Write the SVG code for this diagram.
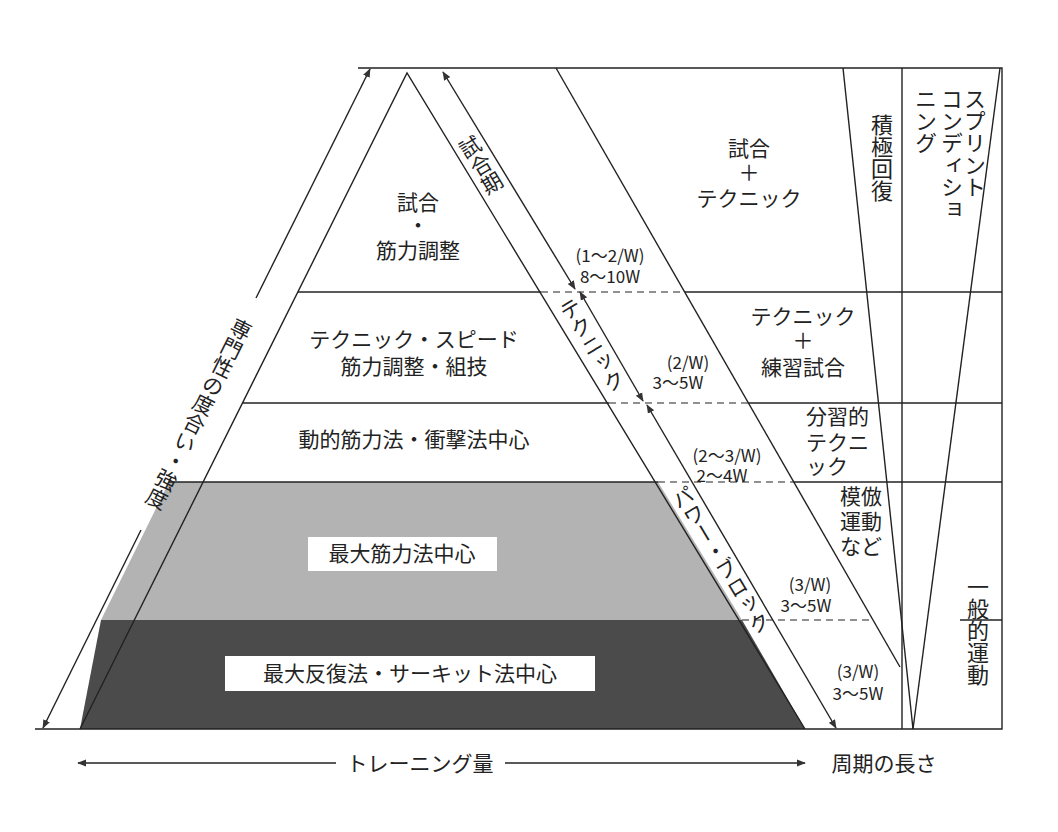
<svg xmlns="http://www.w3.org/2000/svg" width="1058" height="832" viewBox="0 0 1058 832">
<style>
text{font-family:"Noto Sans CJK JP","Noto Sans",sans-serif;fill:#222}
.t{font-size:21px;text-anchor:middle}
.s{font-size:17px;text-anchor:middle}
.v{font-size:22px;writing-mode:vertical-rl}
.r{font-size:21px;writing-mode:vertical-rl;text-anchor:middle}
.l{stroke:#222;stroke-width:1.4;fill:none}
.d{stroke:#222;stroke-width:1.2;stroke-dasharray:7 5;fill:none}
</style>
<defs>
<marker id="a" viewBox="0 0 10 10" refX="9" refY="5" markerWidth="9" markerHeight="9" orient="auto-start-reverse" markerUnits="userSpaceOnUse"><path d="M0,1 L10,5 L0,9 z" fill="#333"/></marker>
</defs>
<rect width="1058" height="832" fill="#fff"/>
<g id="bands">
<polygon points="407,73 80,729 805,729" fill="#fff"/>
<polygon points="169,482 658,482 742,620 101,620" fill="#b3b3b3"/>
<polygon points="101,620 742,620 805,729 80,729" fill="#4b4b4b"/>
<rect x="308" y="537" width="189" height="34" fill="#fff"/>
<rect x="225" y="656" width="370" height="35" fill="#fff"/>
</g>
<g id="connectors">
<polyline class="l" points="358,68 1002,68 1002,729 35,729"/>
<polyline class="l" points="80,729 407,73 805,729"/>
<line class="l" x1="298" y1="292" x2="541" y2="292"/>
<line class="l" x1="243" y1="403" x2="609" y2="403"/>
<line class="l" x1="169" y1="482" x2="658" y2="482"/>
<line class="d" x1="541" y1="292" x2="685" y2="292"/>
<line class="d" x1="609" y1="403" x2="748" y2="403"/>
<line class="d" x1="658" y1="482" x2="794" y2="482"/>
<line class="d" x1="742" y1="620" x2="870" y2="620"/>
<line class="l" x1="685" y1="292" x2="1002" y2="292"/>
<line class="l" x1="748" y1="403" x2="1002" y2="403"/>
<line class="l" x1="794" y1="482" x2="1002" y2="482"/>
<line class="l" x1="960" y1="620" x2="1002" y2="620"/>
<line class="l" x1="556" y1="68" x2="900" y2="667"/>
<line class="l" x1="843" y1="68" x2="913" y2="729"/>
<line class="l" x1="1000" y1="68" x2="913" y2="729"/>
<line class="l" x1="902" y1="68" x2="902" y2="729"/>
<line class="l" x1="443" y1="72" x2="575" y2="289" marker-start="url(#a)" marker-end="url(#a)"/>
<line class="l" x1="580" y1="292" x2="643" y2="401" marker-start="url(#a)" marker-end="url(#a)"/>
<line class="l" x1="647" y1="405" x2="836" y2="728" marker-start="url(#a)" marker-end="url(#a)"/>
<line class="l" x1="370" y1="69" x2="256" y2="298" marker-start="url(#a)"/>
<line class="l" x1="141" y1="530" x2="43" y2="728" marker-end="url(#a)"/>
<line class="l" x1="78" y1="763" x2="336" y2="763" marker-start="url(#a)"/>
<line class="l" x1="505" y1="763" x2="805" y2="763" marker-end="url(#a)"/>
</g>
<g id="labels">
<text class="t" x="418" y="210">試合</text>
<text class="t" x="418" y="233">・</text>
<text class="t" x="418" y="258">筋力調整</text>
<text class="t" x="414" y="347">テクニック・スピード</text>
<text class="t" x="414" y="374">筋力調整・組技</text>
<text class="t" x="414" y="447">動的筋力法・衝撃法中心</text>
<text class="t" x="402" y="561">最大筋力法中心</text>
<text class="t" x="410" y="681">最大反復法・サーキット法中心</text>
<text class="s" x="610" y="262">(1～2/W)</text>
<text class="s" x="610" y="283">8～10W</text>
<text class="s" x="688" y="369">(2/W)</text>
<text class="s" x="678" y="389">3～5W</text>
<text class="s" x="727" y="462">(2～3/W)</text>
<text class="s" x="722" y="482">2～4W</text>
<text class="s" x="810" y="591">(3/W)</text>
<text class="s" x="806" y="612">3～5W</text>
<text class="s" x="858" y="678">(3/W)</text>
<text class="s" x="858" y="700">3～5W</text>
<text class="t" x="749" y="156">試合</text>
<text class="t" x="749" y="180">＋</text>
<text class="t" x="749" y="206">テクニック</text>
<text class="t" x="803" y="324">テクニック</text>
<text class="t" x="803" y="348">＋</text>
<text class="t" x="803" y="375">練習試合</text>
<text class="t" x="806" y="424" style="text-anchor:start">分習的</text>
<text class="t" x="806" y="450" style="text-anchor:start">テクニ</text>
<text class="t" x="806" y="474" style="text-anchor:start">ック</text>
<text class="t" x="840" y="504" style="text-anchor:start">模倣</text>
<text class="t" x="840" y="529" style="text-anchor:start">運動</text>
<text class="t" x="840" y="554" style="text-anchor:start">など</text>
<text class="v" x="882" y="114">積極回復</text>
<text class="v" x="975" y="88">スプリント</text>
<text class="v" x="952" y="88">コンディショ</text>
<text class="v" x="926" y="88">ニング</text>
<text class="v" x="978" y="576">一般的運動</text>
<text class="r" transform="translate(199,414) rotate(26.4)">専門性の度合い・強度</text>
<text class="r" transform="translate(481,165) rotate(-31.2)">試合期</text>
<text class="r" transform="translate(592,345) rotate(-31.2)">テクニック</text>
<text class="r" transform="translate(721,560) rotate(-31.2)">パワー・ブロック</text>
<text class="t" x="420" y="771">トレーニング量</text>
<text class="t" x="884" y="771">周期の長さ</text>
</g>
</svg>
